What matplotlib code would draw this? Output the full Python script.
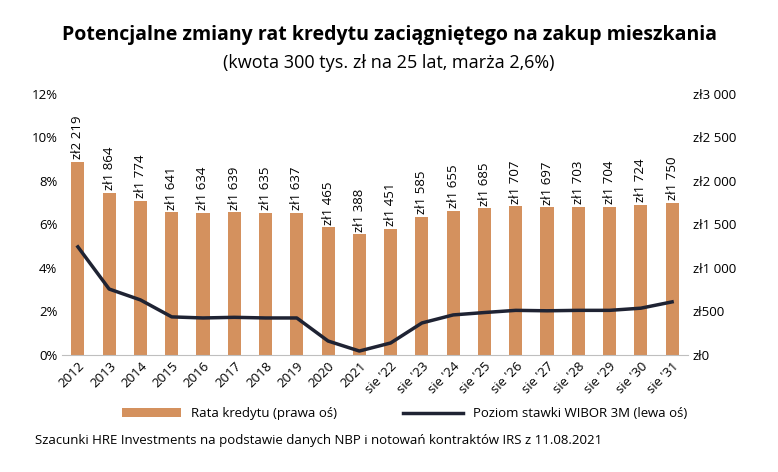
import matplotlib
matplotlib.use("Agg")
import matplotlib.pyplot as plt
from matplotlib.ticker import FuncFormatter

plt.rcParams['font.family'] = 'Open Sans'

categories = ["2012","2013","2014","2015","2016","2017","2018","2019","2020","2021",
              "sie '22","sie '23","sie '24","sie '25","sie '26","sie '27","sie '28","sie '29","sie '30","sie '31"]
rata = [2219,1864,1774,1641,1634,1639,1635,1637,1465,1388,1451,1585,1655,1685,1707,1697,1703,1704,1724,1750]
wibor = [4.97,3.03,2.53,1.75,1.70,1.73,1.70,1.70,0.64,0.18,0.55,1.47,1.84,1.95,2.05,2.03,2.05,2.05,2.15,2.44]

def zl(v):
    s = f"{int(round(v)):,}".replace(",", " ")
    return "zł" + s

fig = plt.figure(figsize=(7.78, 4.72), dpi=100)
ax = fig.add_axes([0.08, 0.248, 0.804, 0.553])
ax2 = ax.twinx()
x = list(range(len(categories)))
ax2.bar(x, rata, width=0.42, color='#D4915E', label='Rata kredytu (prawa oś)', zorder=1)
for xi, v in zip(x, rata):
    ax2.text(xi, v + 30, zl(v), rotation=90, ha='center', va='bottom', fontsize=9.5)
ax2.set_ylim(0, 3000)
ax2.set_yticks(range(0, 3001, 500))
ax2.yaxis.set_major_formatter(FuncFormatter(lambda v, p: zl(v)))

ax.plot(x, wibor, color='#1F2333', lw=2.5, label='Poziom stawki WIBOR 3M (lewa oś)', zorder=5)
ax.set_ylim(0, 12)
ax.set_yticks(range(0, 13, 2))
ax.yaxis.set_major_formatter(FuncFormatter(lambda v, p: f"{int(v)}%"))
ax.set_zorder(ax2.get_zorder() + 1)
ax.patch.set_visible(False)
ax.set_xlim(-0.5, len(categories) - 0.5)
ax.set_xticks(x)
ax.set_xticklabels(categories, rotation=45, ha='right', rotation_mode='anchor', fontsize=9.5)
for a in (ax, ax2):
    for s in a.spines.values():
        s.set_visible(False)
    a.tick_params(length=0, labelsize=9.5)
ax.spines['bottom'].set_visible(True)
ax.spines['bottom'].set_color('#BFBFBF')

h1, l1 = ax2.get_legend_handles_labels()
h2, l2 = ax.get_legend_handles_labels()
fig.legend(h1 + h2, l1 + l2, loc='center', bbox_to_anchor=(0.52, 0.123), ncol=2,
           frameon=False, fontsize=9.5, columnspacing=5, handlelength=4.5)

fig.text(0.5, 0.915, "Potencjalne zmiany rat kredytu zaciągniętego na zakup mieszkania",
         ha='center', fontsize=14, fontweight='bold')
fig.text(0.5, 0.855, "(kwota 300 tys. zł na 25 lat, marża 2,6%)", ha='center', fontsize=13)
fig.text(0.045, 0.06, "Szacunki HRE Investments na podstawie danych NBP i notowań kontraktów IRS z 11.08.2021",
         fontsize=9.5)
fig.savefig("out.png", dpi=100)
